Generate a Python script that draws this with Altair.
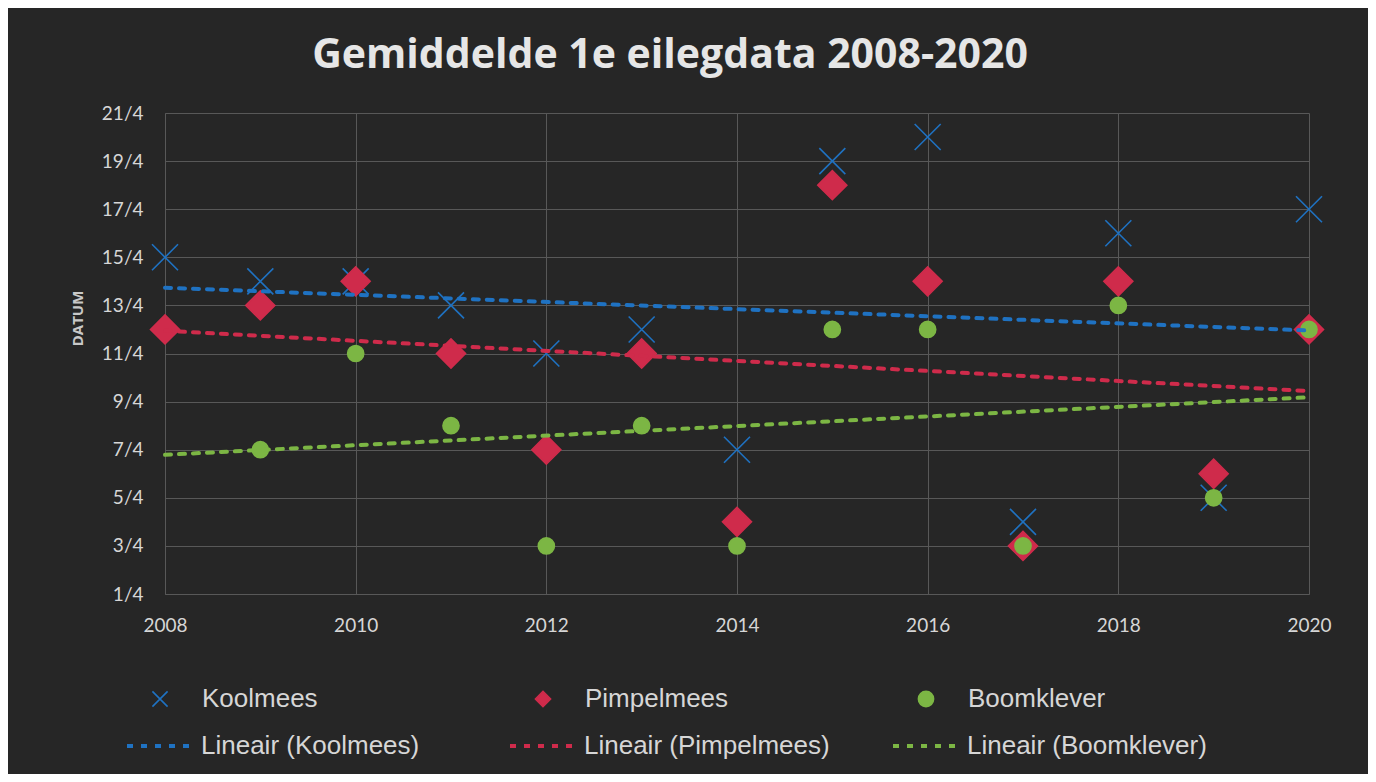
import altair as alt
import pandas as pd

# ---- data ----
years = [2008, 2009, 2010, 2011, 2012, 2013, 2014, 2015, 2016, 2017, 2018, 2019, 2020]
koolmees = [15, 14, 14, 13, 11, 12, 7, 19, 20, 4, 16, 5, 17]
pimpelmees = [12, 13, 14, 11, 7, 11, 4, 18, 14, 3, 14, 6, 12]
boomklever = [None, 7, 11, 8, 3, 8, 3, 12, 12, 3, 13, 5, 12]

series_names = ["Koolmees", "Pimpelmees", "Boomklever"]
trend_names = ["Lineair (Koolmees)", "Lineair (Pimpelmees)", "Lineair (Boomklever)"]
y_ticks = [1, 3, 5, 7, 9, 11, 13, 15, 17, 19, 21]
x_ticks = [2008, 2010, 2012, 2014, 2016, 2018, 2020]

# ---- styles ----
BLUE, RED, GREEN = "#1f72c2", "#cf2b4b", "#7cb644"
BG = "#262626"
GRID = "#585858"
TXT = "#d6d6d6"
X_PATH = "M-1,-1L1,1M-1,1L1,-1"
marker_sizes = {"Koolmees": 676, "Pimpelmees": 841, "Boomklever": 260}

rows = []
for name, vals in zip(series_names, [koolmees, pimpelmees, boomklever]):
    for yr, v in zip(years, vals):
        if v is not None:
            rows.append({"year": yr, "day": v, "series": name})
df = pd.DataFrame(rows)

x_enc = alt.X(
    "year:Q",
    scale=alt.Scale(domain=[2008, 2020], nice=False, zero=False),
    axis=alt.Axis(values=x_ticks, format="d", title=None, labelFont="Lato",
                  labelFontSize=19, labelColor=TXT, labelPadding=22, tickSize=0,
                  ticks=False, labelFlush=False, domainColor=GRID,
                  gridColor=GRID, grid=True),
)
y_enc = alt.Y(
    "day:Q",
    scale=alt.Scale(domain=[1, 21], nice=False, zero=False),
    axis=alt.Axis(values=y_ticks, labelExpr="datum.value + '/4'", title="DATUM",
                  titleFont="Open Sans", titleFontWeight="bold", titleFontSize=15,
                  titleColor="#c8c8c8", titlePadding=16, titleY=205,
                  labelFont="Lato", labelFontSize=19, labelColor=TXT,
                  labelPadding=22, tickSize=0, ticks=False, labelFlush=False,
                  domainColor=GRID, gridColor=GRID, grid=True),
)

pt_legend = alt.Legend(
    title=None, orient="none", legendX=-18, legendY=573, direction="horizontal",
    columns=3, gridAlign="all", columnPadding=184, labelFont="Liberation Sans",
    labelFontSize=26, labelColor=TXT, labelOffset=29, labelLimit=400,
    symbolSize=230, symbolStrokeWidth=1.6, padding=0,
)

shape_scale = alt.Scale(domain=series_names, range=[X_PATH, "diamond", "circle"])
fill_scale = alt.Scale(domain=series_names, range=["transparent", RED, GREEN])
stroke_scale = alt.Scale(domain=series_names, range=[BLUE, RED, GREEN])

point_layers = []
for name in series_names:
    point_layers.append(
        alt.Chart(df).transform_filter(alt.datum.series == name)
        .mark_point(strokeWidth=1.6, opacity=1, size=marker_sizes[name])
        .encode(
            x=x_enc,
            y=y_enc,
            shape=alt.Shape("series:N", scale=shape_scale, legend=pt_legend),
            fill=alt.Fill("series:N", scale=fill_scale, legend=pt_legend),
            stroke=alt.Stroke("series:N", scale=stroke_scale, legend=pt_legend),
        )
    )

tr_legend = alt.Legend(
    title=None, orient="none", legendX=-40, legendY=596, direction="horizontal",
    columns=3, gridAlign="all", columnPadding=55, labelFont="Liberation Sans",
    labelFontSize=26, labelColor=TXT, labelOffset=2, labelLimit=400,
    symbolType="stroke", symbolSize=4900, symbolStrokeWidth=4,
    symbolDash=[6, 8], padding=0,
)

trend = alt.Chart(df).transform_regression(
    "year", "day", groupby=["series"], extent=[2008, 2020]
).transform_calculate(
    trend='"Lineair (" + datum.series + ")"'
).mark_line(strokeWidth=4, strokeDash=[6, 8], strokeCap="round").encode(
    x="year:Q",
    y="day:Q",
    color=alt.Color("trend:N", scale=alt.Scale(domain=trend_names, range=[BLUE, RED, GREEN]), legend=tr_legend),
)

chart = alt.layer(*point_layers, trend).properties(
    width=1144,
    height=481,
    background=BG,
    padding={"left": 157, "top": 105, "right": 59, "bottom": 180},
    autosize=alt.AutoSizeParams(type="none"),
    title=alt.TitleParams(
        "Gemiddelde 1e eilegdata 2008-2020", font="Open Sans", fontSize=41,
        fontWeight="bold", color="#e6e6e6", anchor="middle", offset=27, dx=-67,
    ),
).configure_view(stroke=None)

chart.save("out.html", embed_options={"renderer": "svg", "actions": False})
